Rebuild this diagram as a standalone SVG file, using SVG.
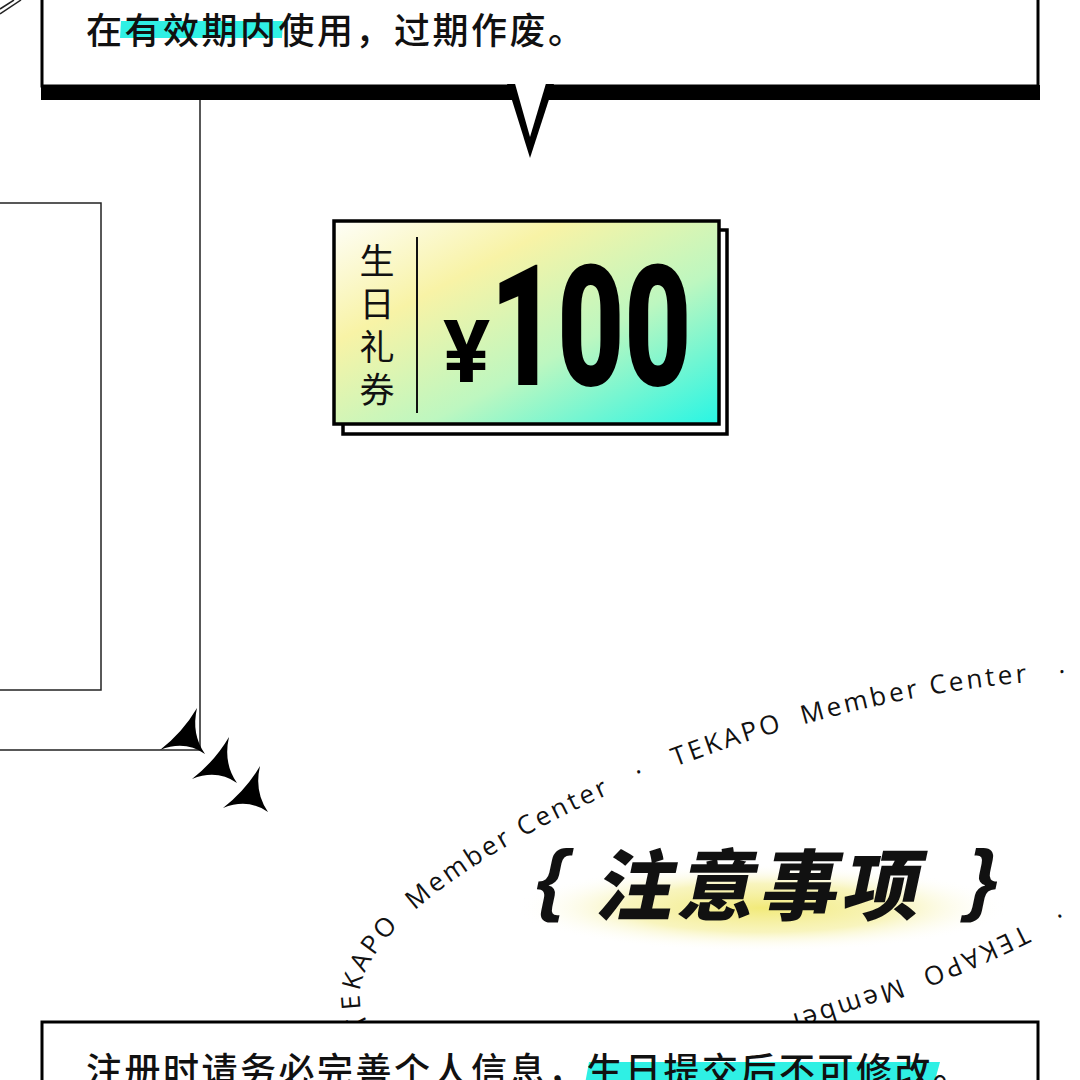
<svg xmlns="http://www.w3.org/2000/svg" width="1080" height="1080" viewBox="0 0 1080 1080">
<style>
.cjk{font-family:"Noto Sans CJK SC","Noto Sans CJK JP",sans-serif;fill:#111;}
.ring{font-family:"Open Sans","Noto Sans",sans-serif;font-size:26px;letter-spacing:3px;fill:#111;}
.thin{stroke:#222;stroke-width:1.5;fill:none;}
.hl{fill:#2ff0e4;}
.box{fill:#fff;stroke:#000;stroke-width:3;}
.dart{fill:#000;}
</style>
<defs>
<linearGradient id="vg" x1="0" y1="0" x2="1" y2="1">
<stop offset="0" stop-color="#fefef8"/>
<stop offset="0.3" stop-color="#f8f3a6"/>
<stop offset="0.62" stop-color="#bdf7c0"/>
<stop offset="1" stop-color="#27f5e4"/>
</linearGradient>
<radialGradient id="glow" cx="0.5" cy="0.5" r="0.5">
<stop offset="0" stop-color="#f2ea7a" stop-opacity="1"/>
<stop offset="0.55" stop-color="#f6f1a8" stop-opacity="0.75"/>
<stop offset="1" stop-color="#ffffff" stop-opacity="0"/>
</radialGradient>
<path id="ring" d="M472.4,967.9 A452,137 0 0 1 1111.6,774.1 A452,137 0 0 1 472.4,967.9"/>
<path id="dartShape" d="M0,0 Q-14,24 -37,42 Q-12,32 8,46 Q-6,26 0,0 Z"/>
</defs>

<g id="left-frames">
<line class="thin" x1="0" y1="14" x2="21" y2="0"/>
<line class="thin" x1="0" y1="9" x2="14" y2="0"/>
<rect class="thin" x="-10" y="203" width="111" height="487"/>
<polyline class="thin" points="200,0 200,750 0,750"/>
</g>

<g id="ring-text" transform="rotate(-17.9 792 871)">
<text class="ring"><textPath href="#ring" startOffset="157">TEKAPO&#160;&#160;Member&#160;Center&#160;&#160;&#160;·&#160;&#160;&#160;TEKAPO&#160;&#160;Member&#160;Center&#160;&#160;&#160;·&#160;&#160;&#160;TEKAPO&#160;&#160;Member&#160;Center&#160;&#160;&#160;·&#160;&#160;&#160;TEKAPO&#160;&#160;Member&#160;Center&#160;&#160;&#160;·&#160;&#160;&#160;</textPath></text>
</g>

<g id="title">
<ellipse cx="762" cy="908" rx="248" ry="44" fill="url(#glow)"/>
<text font-family="Liberation Sans, Arial, sans-serif" font-weight="700" font-size="80" fill="#111" transform="translate(532,906) skewX(-12)">{</text>
<text font-family="Liberation Sans, Arial, sans-serif" font-weight="700" font-size="80" fill="#111" transform="translate(962,906) skewX(-12)">}</text>
<text class="cjk" font-weight="900" font-size="77" letter-spacing="5" transform="translate(594,914) skewX(-12)">注意事项</text>
</g>

<g id="notice-box">
<rect class="box" x="42" y="1022" width="996" height="90"/>
<polygon class="hl" points="589,1062 940,1062 934,1084 585,1084"/>
<text class="cjk" x="86" y="1084" font-size="36" font-weight="500" letter-spacing="2.5">注册时请务必完善个人信息，生日提交后不可修改。</text>
</g>

<g id="speech-bubble">
<rect class="box" x="42" y="-20" width="996" height="106"/>
<rect x="41" y="85" width="999" height="15" fill="#000"/>
<polygon points="507,84 530,158 554,84" fill="#000"/>
<polygon points="514,80 530,137 547,80" fill="#fff"/>
<polygon class="hl" points="121,21 283,21 282,38 120,38"/>
<text class="cjk" x="86" y="44" font-size="36" font-weight="500" letter-spacing="2.5">在有效期内使用，过期作废。</text>
</g>

<g id="voucher">
<rect x="343" y="230" width="384" height="204" fill="#fff" stroke="#000" stroke-width="3.5"/>
<rect x="334" y="221" width="385" height="203" fill="url(#vg)" stroke="#000" stroke-width="3.5"/>
<line x1="417" y1="237" x2="417" y2="413" stroke="#111" stroke-width="2"/>
<text class="cjk" x="377" y="243" font-size="35" letter-spacing="8" writing-mode="vertical-rl">生日礼券</text>
<text x="443" y="382" font-family="Roboto, sans-serif" font-weight="700" font-size="88" fill="#000">¥</text>
<text font-family="Roboto, sans-serif" font-weight="900" font-size="168" fill="#000" transform="translate(490,385) scale(0.69,1)">100</text>
</g>

<g id="darts">
<use href="#dartShape" class="dart" x="197" y="708"/>
<use href="#dartShape" class="dart" x="229" y="737"/>
<use href="#dartShape" class="dart" x="260" y="766"/>
</g>
</svg>
